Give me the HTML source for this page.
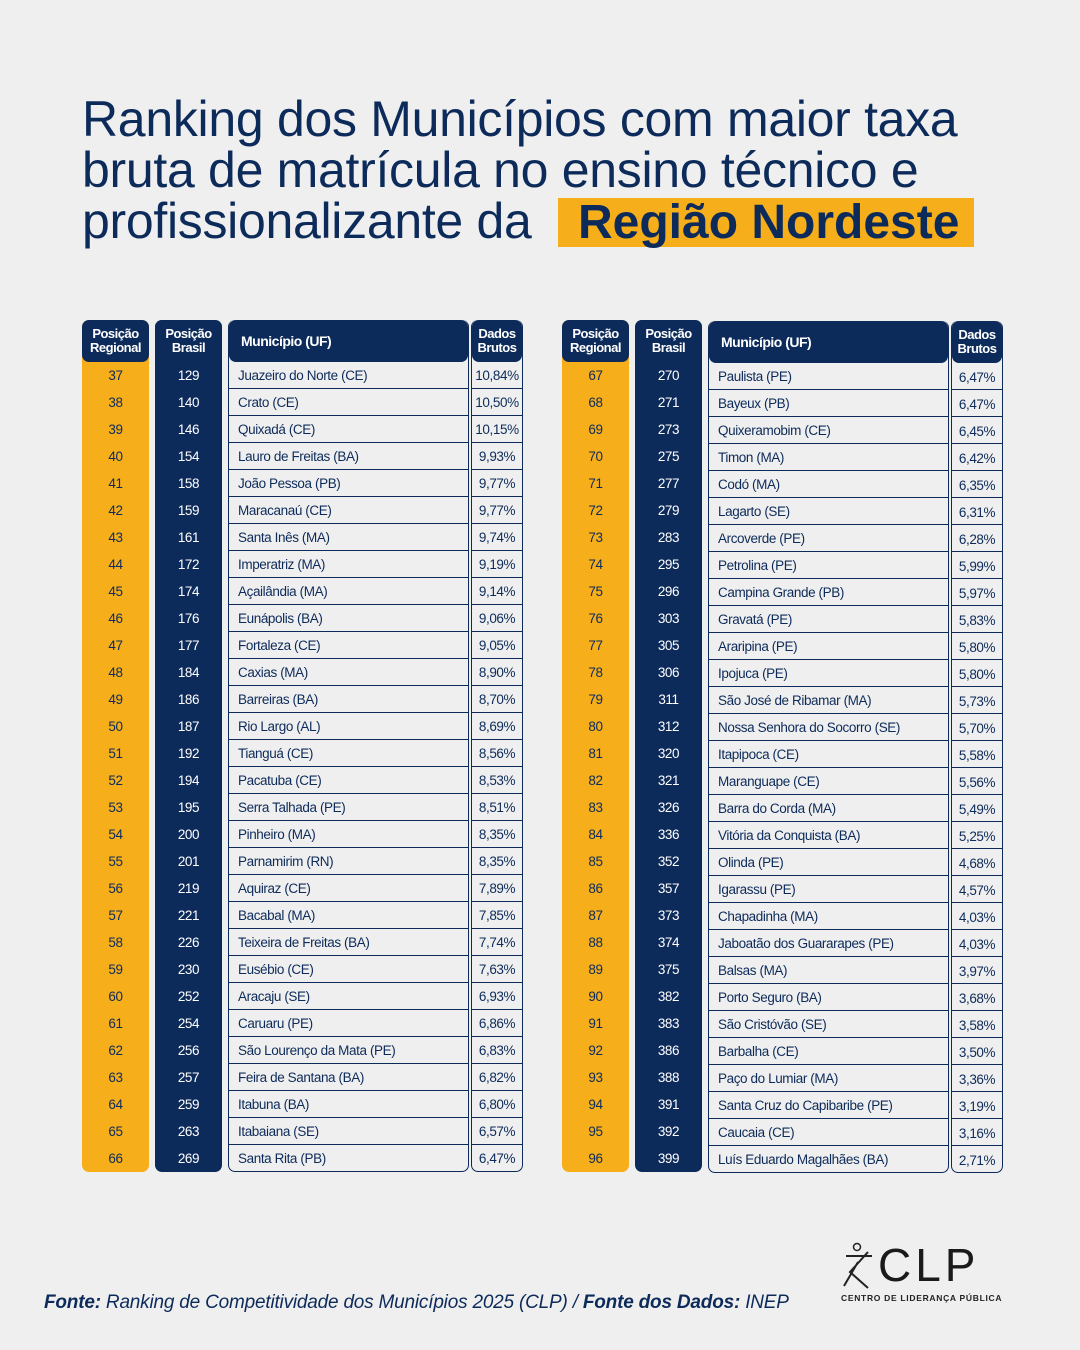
<!DOCTYPE html>
<html><head><meta charset="utf-8"><style>
*{margin:0;padding:0;box-sizing:border-box}
body{width:1080px;height:1350px;background:#efefef;font-family:"Liberation Sans",sans-serif;color:#0d2b5a;position:relative;overflow:hidden}
.t{position:absolute;left:82px;font-size:50px;letter-spacing:-0.3px;line-height:51px;white-space:nowrap}
.hl{position:absolute;left:558px;top:198px;width:416px;height:49px;background:#f6ae1a}
.hl span{position:absolute;left:20px;top:-3px;font-weight:bold;font-size:48px;letter-spacing:0px;white-space:nowrap}
.col{position:absolute;top:320px;height:852px;border-radius:7px;font-size:13.5px;letter-spacing:-0.4px}
.y{background:#f6ae1a;color:#0d2b5a}
.n{background:#0d2b5a;color:#fff}
.hd{height:42px;background:#0d2b5a;color:#fff;border-radius:7px;display:flex;align-items:center;justify-content:center;text-align:center;font-size:13px;line-height:14px;font-weight:bold;letter-spacing:-0.5px}
.r{height:27px;line-height:27px;text-align:center}
.w{background:#fff0;border:1.5px solid #0d2b5a;border-top:none}
.w .r{border-bottom:1.2px solid #0d2b5a;text-align:left;padding-left:9px;color:#0d2b5a}
.w .r:last-child{border-bottom:none}
.v .r{padding-left:0;text-align:center;line-height:30px}
.hd.l{justify-content:flex-start;padding-left:12px;font-size:14px}
</style></head><body>
<div class="t" style="top:94px">Ranking dos Municípios com maior taxa</div>
<div class="t" style="top:145px">bruta de matrícula no ensino técnico e</div>
<div class="t" style="top:196px">profissionalizante da</div>
<div class="hl"><span>Região Nordeste</span></div>

<!-- LEFT TABLE -->
<div class="col y" style="left:82px;width:67px"><div class="hd">Posição<br>Regional</div>
<div class="r">37</div><div class="r">38</div><div class="r">39</div><div class="r">40</div><div class="r">41</div><div class="r">42</div><div class="r">43</div><div class="r">44</div><div class="r">45</div><div class="r">46</div><div class="r">47</div><div class="r">48</div><div class="r">49</div><div class="r">50</div><div class="r">51</div><div class="r">52</div><div class="r">53</div><div class="r">54</div><div class="r">55</div><div class="r">56</div><div class="r">57</div><div class="r">58</div><div class="r">59</div><div class="r">60</div><div class="r">61</div><div class="r">62</div><div class="r">63</div><div class="r">64</div><div class="r">65</div><div class="r">66</div></div>
<div class="col n" style="left:155px;width:67px"><div class="hd">Posição<br>Brasil</div>
<div class="r">129</div><div class="r">140</div><div class="r">146</div><div class="r">154</div><div class="r">158</div><div class="r">159</div><div class="r">161</div><div class="r">172</div><div class="r">174</div><div class="r">176</div><div class="r">177</div><div class="r">184</div><div class="r">186</div><div class="r">187</div><div class="r">192</div><div class="r">194</div><div class="r">195</div><div class="r">200</div><div class="r">201</div><div class="r">219</div><div class="r">221</div><div class="r">226</div><div class="r">230</div><div class="r">252</div><div class="r">254</div><div class="r">256</div><div class="r">257</div><div class="r">259</div><div class="r">263</div><div class="r">269</div></div>
<div class="col w" style="left:228px;width:241px"><div class="hd l">Município (UF)</div>
<div class="r">Juazeiro do Norte (CE)</div><div class="r">Crato (CE)</div><div class="r">Quixadá (CE)</div><div class="r">Lauro de Freitas (BA)</div><div class="r">João Pessoa (PB)</div><div class="r">Maracanaú (CE)</div><div class="r">Santa Inês (MA)</div><div class="r">Imperatriz (MA)</div><div class="r">Açailândia (MA)</div><div class="r">Eunápolis (BA)</div><div class="r">Fortaleza (CE)</div><div class="r">Caxias (MA)</div><div class="r">Barreiras (BA)</div><div class="r">Rio Largo (AL)</div><div class="r">Tianguá (CE)</div><div class="r">Pacatuba (CE)</div><div class="r">Serra Talhada (PE)</div><div class="r">Pinheiro (MA)</div><div class="r">Parnamirim (RN)</div><div class="r">Aquiraz (CE)</div><div class="r">Bacabal (MA)</div><div class="r">Teixeira de Freitas (BA)</div><div class="r">Eusébio (CE)</div><div class="r">Aracaju (SE)</div><div class="r">Caruaru (PE)</div><div class="r">São Lourenço da Mata (PE)</div><div class="r">Feira de Santana (BA)</div><div class="r">Itabuna (BA)</div><div class="r">Itabaiana (SE)</div><div class="r">Santa Rita (PB)</div></div>
<div class="col w v" style="left:471px;width:52px"><div class="hd">Dados<br>Brutos</div>
<div class="r" style="line-height:27px">10,84%</div><div class="r" style="line-height:27px">10,50%</div><div class="r" style="line-height:27px">10,15%</div><div class="r" style="line-height:27px">9,93%</div><div class="r" style="line-height:27px">9,77%</div><div class="r" style="line-height:27px">9,77%</div><div class="r" style="line-height:27px">9,74%</div><div class="r" style="line-height:27px">9,19%</div><div class="r" style="line-height:27px">9,14%</div><div class="r" style="line-height:27px">9,06%</div><div class="r" style="line-height:27px">9,05%</div><div class="r" style="line-height:27px">8,90%</div><div class="r" style="line-height:27px">8,70%</div><div class="r" style="line-height:27px">8,69%</div><div class="r" style="line-height:27px">8,56%</div><div class="r" style="line-height:27px">8,53%</div><div class="r" style="line-height:27px">8,51%</div><div class="r" style="line-height:27px">8,35%</div><div class="r" style="line-height:27px">8,35%</div><div class="r" style="line-height:27px">7,89%</div><div class="r" style="line-height:27px">7,85%</div><div class="r" style="line-height:27px">7,74%</div><div class="r" style="line-height:27px">7,63%</div><div class="r" style="line-height:27px">6,93%</div><div class="r" style="line-height:27px">6,86%</div><div class="r" style="line-height:27px">6,83%</div><div class="r" style="line-height:27px">6,82%</div><div class="r" style="line-height:27px">6,80%</div><div class="r" style="line-height:27px">6,57%</div><div class="r" style="line-height:27px">6,47%</div></div>

<!-- RIGHT TABLE -->
<div class="col y" style="left:562px;width:67px"><div class="hd">Posição<br>Regional</div>
<div class="r">67</div><div class="r">68</div><div class="r">69</div><div class="r">70</div><div class="r">71</div><div class="r">72</div><div class="r">73</div><div class="r">74</div><div class="r">75</div><div class="r">76</div><div class="r">77</div><div class="r">78</div><div class="r">79</div><div class="r">80</div><div class="r">81</div><div class="r">82</div><div class="r">83</div><div class="r">84</div><div class="r">85</div><div class="r">86</div><div class="r">87</div><div class="r">88</div><div class="r">89</div><div class="r">90</div><div class="r">91</div><div class="r">92</div><div class="r">93</div><div class="r">94</div><div class="r">95</div><div class="r">96</div></div>
<div class="col n" style="left:635px;width:67px"><div class="hd">Posição<br>Brasil</div>
<div class="r">270</div><div class="r">271</div><div class="r">273</div><div class="r">275</div><div class="r">277</div><div class="r">279</div><div class="r">283</div><div class="r">295</div><div class="r">296</div><div class="r">303</div><div class="r">305</div><div class="r">306</div><div class="r">311</div><div class="r">312</div><div class="r">320</div><div class="r">321</div><div class="r">326</div><div class="r">336</div><div class="r">352</div><div class="r">357</div><div class="r">373</div><div class="r">374</div><div class="r">375</div><div class="r">382</div><div class="r">383</div><div class="r">386</div><div class="r">388</div><div class="r">391</div><div class="r">392</div><div class="r">399</div></div>
<div class="col w" style="left:708px;width:241px;top:321px"><div class="hd l">Município (UF)</div>
<div class="r">Paulista (PE)</div><div class="r">Bayeux (PB)</div><div class="r">Quixeramobim (CE)</div><div class="r">Timon (MA)</div><div class="r">Codó (MA)</div><div class="r">Lagarto (SE)</div><div class="r">Arcoverde (PE)</div><div class="r">Petrolina (PE)</div><div class="r">Campina Grande (PB)</div><div class="r">Gravatá (PE)</div><div class="r">Araripina (PE)</div><div class="r">Ipojuca (PE)</div><div class="r">São José de Ribamar (MA)</div><div class="r">Nossa Senhora do Socorro (SE)</div><div class="r">Itapipoca (CE)</div><div class="r">Maranguape (CE)</div><div class="r">Barra do Corda (MA)</div><div class="r">Vitória da Conquista (BA)</div><div class="r">Olinda (PE)</div><div class="r">Igarassu (PE)</div><div class="r">Chapadinha (MA)</div><div class="r">Jaboatão dos Guararapes (PE)</div><div class="r">Balsas (MA)</div><div class="r">Porto Seguro (BA)</div><div class="r">São Cristóvão (SE)</div><div class="r">Barbalha (CE)</div><div class="r">Paço do Lumiar (MA)</div><div class="r">Santa Cruz do Capibaribe (PE)</div><div class="r">Caucaia (CE)</div><div class="r">Luís Eduardo Magalhães (BA)</div></div>
<div class="col w v" style="left:951px;width:52px;top:321px"><div class="hd">Dados<br>Brutos</div>
<div class="r">6,47%</div><div class="r">6,47%</div><div class="r">6,45%</div><div class="r">6,42%</div><div class="r">6,35%</div><div class="r">6,31%</div><div class="r">6,28%</div><div class="r">5,99%</div><div class="r">5,97%</div><div class="r">5,83%</div><div class="r">5,80%</div><div class="r">5,80%</div><div class="r">5,73%</div><div class="r">5,70%</div><div class="r">5,58%</div><div class="r">5,56%</div><div class="r">5,49%</div><div class="r">5,25%</div><div class="r">4,68%</div><div class="r">4,57%</div><div class="r">4,03%</div><div class="r">4,03%</div><div class="r">3,97%</div><div class="r">3,68%</div><div class="r">3,58%</div><div class="r">3,50%</div><div class="r">3,36%</div><div class="r">3,19%</div><div class="r">3,16%</div><div class="r">2,71%</div></div>

<div style="position:absolute;left:44px;top:1292px;font-size:19px;font-style:italic;letter-spacing:-0.2px;white-space:nowrap"><b>Fonte:</b> Ranking de Competitividade dos Municípios 2025 (CLP) / <b>Fonte dos Dados:</b> INEP</div>
<div style="position:absolute;left:878px;top:1238px;font-size:46px;color:#1a1a1a;letter-spacing:4px">CLP</div>
<svg style="position:absolute;left:840px;top:1242px" width="42" height="50"><circle cx="17" cy="5" r="3.5" fill="none" stroke="#222" stroke-width="1.5"/><path d="M6 14 L32 14 M28 10 L10 30 L28 46 M18 20 L4 44" fill="none" stroke="#222" stroke-width="2"/></svg>
<div style="position:absolute;left:841px;top:1293px;font-size:8.5px;font-weight:bold;color:#222;letter-spacing:0.7px;white-space:nowrap">CENTRO DE LIDERANÇA PÚBLICA</div>
</body></html>
